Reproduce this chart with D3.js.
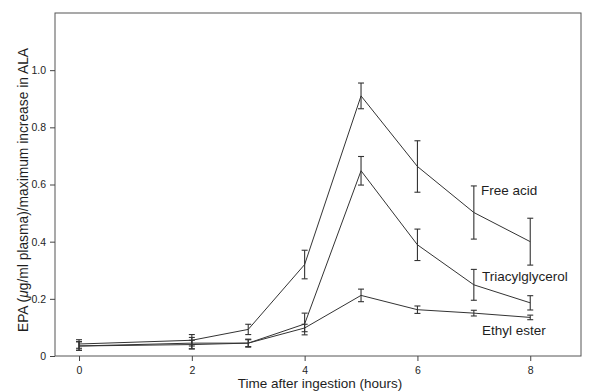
<!DOCTYPE html>
<html><head><meta charset="utf-8">
<script src="https://cdn.jsdelivr.net/npm/d3@7"></script>
<style>
body{margin:0;background:#fff;}
svg{display:block;font-family:"Liberation Sans",Arial,sans-serif;}
</style></head>
<body><svg id="c" width="600" height="391"></svg>
<script>
const times = [0, 2, 3, 4, 5, 6, 7, 8];
const freeAcid = [0.042, 0.055, 0.093, 0.32, 0.91, 0.663, 0.502, 0.40];
const freeAcidErr = [0.015, 0.02, 0.018, 0.05, 0.045, 0.09, 0.093, 0.082];
const triacyl = [0.035, 0.045, 0.045, 0.112, 0.648, 0.389, 0.249, 0.186];
const triacylErr = [0.015, 0.02, 0.014, 0.038, 0.05, 0.055, 0.054, 0.025];
const ethyl = [0.035, 0.04, 0.045, 0.098, 0.212, 0.162, 0.15, 0.135];
const ethylErr = [0.015, 0.015, 0.012, 0.013, 0.022, 0.013, 0.01, 0.008];
const xTicks = [0, 2, 4, 6, 8];
const yTicks = [0, 0.2, 0.4, 0.6, 0.8, 1.0];
const seriesNames = ["Free acid", "Triacylglycerol", "Ethyl ester"];

const L = 55, R = 581, T = 13, B = 356;
const svg = d3.select("#c");
const x = d3.scaleLinear().domain([-0.426, 8.9]).range([L, R]);
const y = d3.scaleLinear().domain([0, 1.2]).range([B, T]);
const ink = "#1e1e1e";

// frame
svg.append("rect").attr("x", L).attr("y", T).attr("width", R - L).attr("height", B - T)
  .attr("fill", "none").attr("stroke", "#555").attr("stroke-width", 1);

const xa = svg.append("g").attr("transform", `translate(0,${B})`)
  .call(d3.axisBottom(x).tickValues(xTicks).tickSize(5).tickSizeOuter(0).tickFormat(d3.format("d")));
const ya = svg.append("g").attr("transform", `translate(${L},0)`)
  .call(d3.axisLeft(y).tickValues(yTicks).tickSize(5).tickSizeOuter(0).tickFormat(d => d === 0 ? "0" : d3.format(".1f")(d)));
[xa, ya].forEach(a => {
  a.select(".domain").remove();
  a.selectAll("line").attr("stroke", "#444");
  a.selectAll("text").attr("fill", ink).style("font-size", "10.5px");
});
xa.selectAll("text").attr("y", 18).attr("dy", "0");
ya.selectAll("text").attr("dx", "-1px");

// titles
svg.append("text").attr("x", 320).attr("y", 388).attr("text-anchor", "middle")
  .attr("fill", ink).style("font-size", "13.5px").text("Time after ingestion (hours)");
const yt = svg.append("text").attr("transform", "translate(28,190) rotate(-90)")
  .attr("text-anchor", "middle").attr("fill", ink).style("font-size", "13.8px");
yt.append("tspan").text("EPA (");
yt.append("tspan").style("font-style", "italic").text("μ");
yt.append("tspan").text("g/ml plasma)/maximum increase in ALA");

const series = [
  {name: seriesNames[0], v: freeAcid, e: freeAcidErr, lx: 481, ly: 195},
  {name: seriesNames[1], v: triacyl, e: triacylErr, lx: 482, ly: 281},
  {name: seriesNames[2], v: ethyl, e: ethylErr, lx: 482, ly: 335}
];
const line = d3.line().x(d => x(d.t)).y(d => y(d.v));
series.forEach(s => {
  const pts = times.map((t, i) => ({t, v: s.v[i], e: s.e[i]}));
  svg.append("path").attr("d", line(pts)).attr("fill", "none")
    .attr("stroke", "#333").attr("stroke-width", 1);
  const g = svg.append("g").attr("stroke", "#333").attr("stroke-width", 1.1);
  pts.forEach(p => {
    const cx = x(p.t), y1 = y(p.v + p.e), y2 = y(p.v - p.e);
    g.append("line").attr("x1", cx).attr("x2", cx).attr("y1", y1).attr("y2", y2);
    g.append("line").attr("x1", cx - 3).attr("x2", cx + 3).attr("y1", y1).attr("y2", y1);
    g.append("line").attr("x1", cx - 3).attr("x2", cx + 3).attr("y1", y2).attr("y2", y2);
  });
  svg.append("text").attr("x", s.lx).attr("y", s.ly).attr("fill", ink)
    .style("font-size", "13.5px").text(s.name);
});
</script></body></html>
